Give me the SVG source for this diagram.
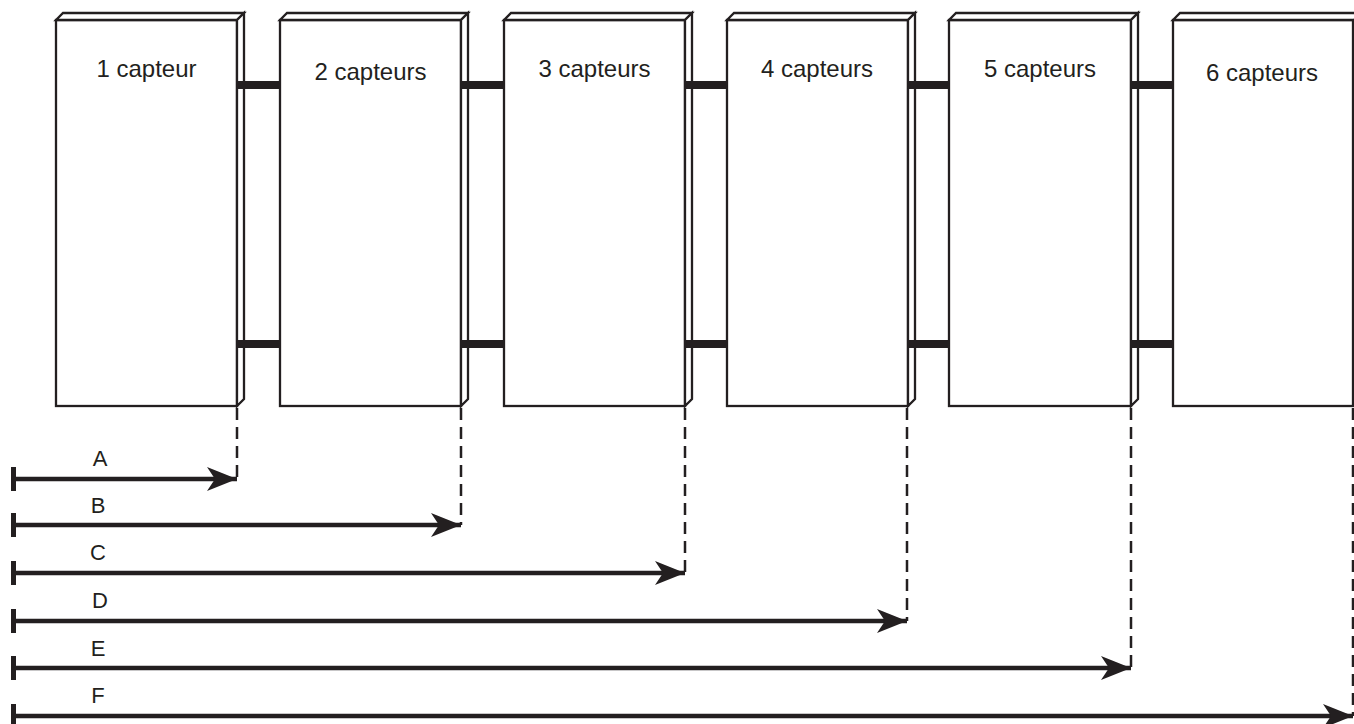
<svg xmlns="http://www.w3.org/2000/svg" width="1354" height="724" viewBox="0 0 1354 724">
<style>
.f{fill:#fff;stroke:#231f20;stroke-width:2.3;stroke-linejoin:miter}
.t{font-family:"Liberation Sans",Arial,sans-serif;font-size:24px;fill:#231f20;text-anchor:middle}
.l{font-family:"Liberation Sans",Arial,sans-serif;font-size:22px;fill:#231f20;text-anchor:middle}
.bar{fill:#231f20}
.d{stroke:#231f20;stroke-width:2.5;stroke-dasharray:12 7;fill:none}
.a{stroke:#231f20;stroke-width:4.5;fill:none}
</style>
<defs>
<marker id="ah" markerUnits="userSpaceOnUse" markerWidth="32" markerHeight="26" refX="30" refY="12" orient="auto">
<path d="M0,0 L30,12 L0,24 L8,12 Z" fill="#231f20"/>
</marker>
</defs>
<rect width="1354" height="724" fill="#fff"/>
<g id="box1">
<rect class="f" x="56" y="20" width="181" height="386"/>
<polygon class="f" points="56,20 63,13 244,13 237,20"/>
<polygon class="f" points="237,20 244,13 244,399 237,406"/>
<text class="t" x="146.5" y="77">1 capteur</text>
</g>
<g id="box2">
<rect class="f" x="280" y="20" width="181" height="386"/>
<polygon class="f" points="280,20 287,13 468,13 461,20"/>
<polygon class="f" points="461,20 468,13 468,399 461,406"/>
<text class="t" x="370.5" y="80">2 capteurs</text>
</g>
<g id="box3">
<rect class="f" x="504" y="20" width="181" height="386"/>
<polygon class="f" points="504,20 511,13 692,13 685,20"/>
<polygon class="f" points="685,20 692,13 692,399 685,406"/>
<text class="t" x="594.5" y="77">3 capteurs</text>
</g>
<g id="box4">
<rect class="f" x="727" y="20" width="181" height="386"/>
<polygon class="f" points="727,20 734,13 915,13 908,20"/>
<polygon class="f" points="908,20 915,13 915,399 908,406"/>
<text class="t" x="817" y="77">4 capteurs</text>
</g>
<g id="box5">
<rect class="f" x="949" y="20" width="182" height="386"/>
<polygon class="f" points="949,20 956,13 1138,13 1131,20"/>
<polygon class="f" points="1131,20 1138,13 1138,399 1131,406"/>
<text class="t" x="1040" y="77">5 capteurs</text>
</g>
<g id="box6">
<rect class="f" x="1173" y="20" width="180" height="386"/>
<polygon class="f" points="1173,20 1180,13 1361,13 1354,20"/>
<text class="t" x="1262" y="81">6 capteurs</text>
</g>
<g id="connectors">
<rect class="bar" x="237" y="81" width="43" height="8"/>
<rect class="bar" x="237" y="340" width="43" height="8"/>
<rect class="bar" x="461" y="81" width="43" height="8"/>
<rect class="bar" x="461" y="340" width="43" height="8"/>
<rect class="bar" x="685" y="81" width="42" height="8"/>
<rect class="bar" x="685" y="340" width="42" height="8"/>
<rect class="bar" x="908" y="81" width="41" height="8"/>
<rect class="bar" x="908" y="340" width="41" height="8"/>
<rect class="bar" x="1131" y="81" width="42" height="8"/>
<rect class="bar" x="1131" y="340" width="42" height="8"/>
<line class="d" x1="237" y1="408" x2="237" y2="479"/>
<line class="d" x1="461" y1="408" x2="461" y2="525"/>
<line class="d" x1="685" y1="408" x2="685" y2="573"/>
<line class="d" x1="907" y1="408" x2="907" y2="621"/>
<line class="d" x1="1131" y1="408" x2="1131" y2="668"/>
<line class="d" x1="1353" y1="408" x2="1353" y2="716" stroke-width="1.5" stroke="#666"/>
<line class="a" x1="13" y1="479" x2="237" y2="479" marker-end="url(#ah)"/>
<line class="a" x1="13" y1="525" x2="461" y2="525" marker-end="url(#ah)"/>
<line class="a" x1="13" y1="573" x2="685" y2="573" marker-end="url(#ah)"/>
<line class="a" x1="13" y1="621" x2="907" y2="621" marker-end="url(#ah)"/>
<line class="a" x1="13" y1="668" x2="1131" y2="668" marker-end="url(#ah)"/>
<line class="a" x1="13" y1="716" x2="1353" y2="716" marker-end="url(#ah)"/>
<rect class="bar" x="11" y="467" width="5" height="24"/>
<rect class="bar" x="11" y="513" width="5" height="24"/>
<rect class="bar" x="11" y="561" width="5" height="24"/>
<rect class="bar" x="11" y="609" width="5" height="24"/>
<rect class="bar" x="11" y="656" width="5" height="24"/>
<rect class="bar" x="11" y="704" width="5" height="20"/>
<text class="l" x="100" y="466">A</text>
<text class="l" x="98" y="513">B</text>
<text class="l" x="98" y="560">C</text>
<text class="l" x="100" y="608">D</text>
<text class="l" x="98" y="656">E</text>
<text class="l" x="98" y="703">F</text>
</g>
</svg>
